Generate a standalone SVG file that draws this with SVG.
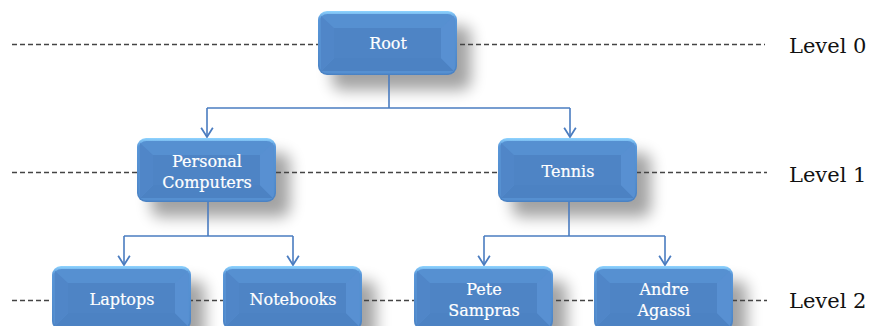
<svg xmlns="http://www.w3.org/2000/svg" xmlns:xlink="http://www.w3.org/1999/xlink" width="874" height="326" viewBox="0 0 874 326">
  <style>
    .level-line { stroke: #444; stroke-width: 1.3; stroke-dasharray: 5 3; fill: none; }
    .level-label { font-family: "DejaVu Serif", "Liberation Serif", serif; font-size: 21px; fill: #111; }
    .node-text { font-family: "DejaVu Serif", "Liberation Serif", serif; font-size: 16px; fill: #fff; stroke: #fff; stroke-width: 0.2; text-anchor: middle; }
    .edge { stroke: #4a7cc0; stroke-width: 1.6; fill: none; }
    .shadow { fill: #000; opacity: 0.36; filter: url(#blur); }
  </style>
  <defs>
    <filter id="blur" x="-30%" y="-40%" width="160%" height="180%">
      <feGaussianBlur stdDeviation="7.5"/>
    </filter>
    <linearGradient id="rim" x1="0" y1="0" x2="0" y2="1">
      <stop offset="0" stop-color="#8fd4ff"/>
      <stop offset="0.12" stop-color="#5a98da"/>
      <stop offset="1" stop-color="#4a82c4"/>
    </linearGradient>
    <marker id="arrow" markerUnits="userSpaceOnUse" markerWidth="14" markerHeight="14" refX="11" refY="6" orient="auto" viewBox="0 0 12 12">
      <path d="M3,1 L11,6 L3,11" fill="none" stroke="#4a7cc0" stroke-width="1.5"/>
    </marker>
    <!-- bevelled button, 139 x 64 -->
    <g id="box">
      <rect width="139" height="64" rx="9" fill="url(#rim)"/>
      <rect x="1.5" y="3" width="136" height="59.5" rx="8" fill="#5690d1"/>
      <polygon points="3,60 16,47 123,47 136,60" fill="#4c82c3"/>
      <polygon points="3,5 16,17 16,47 3,60" fill="#5086c8"/>
      <polygon points="136,5 123,17 123,47 136,60" fill="#5890d2"/>
      <rect x="16" y="17" width="107" height="30" fill="#4e84c5"/>
    </g>
  </defs>

  <rect width="874" height="326" fill="#fff"/>

  <!-- shadows under the buttons -->
  <g id="shadows">
    <rect class="shadow" x="332" y="26" width="139" height="64" rx="9"/>
    <rect class="shadow" x="151" y="153" width="139" height="64" rx="9"/>
    <rect class="shadow" x="512" y="153" width="139" height="64" rx="9"/>
    <rect class="shadow" x="66" y="281" width="139" height="64" rx="9"/>
    <rect class="shadow" x="237" y="281" width="139" height="64" rx="9"/>
    <rect class="shadow" x="428" y="281" width="139" height="64" rx="9"/>
    <rect class="shadow" x="608" y="281" width="139" height="64" rx="9"/>
  </g>

  <!-- level guide lines -->
  <g id="levels">
    <line class="level-line" x1="12" y1="44.5" x2="765" y2="44.5"/>
    <line class="level-line" x1="12" y1="172.5" x2="767" y2="172.5"/>
    <line class="level-line" x1="12" y1="300.5" x2="767" y2="300.5"/>
    <text class="level-label" x="789" y="53">Level 0</text>
    <text class="level-label" x="789" y="182">Level 1</text>
    <text class="level-label" x="789" y="308">Level 2</text>
  </g>

  <g id="node-root">
    <use xlink:href="#box" x="318" y="11"/>
    <text class="node-text" x="388" y="49">Root</text>
  </g>
  <g id="node-personal-computers">
    <use xlink:href="#box" x="137" y="138"/>
    <text class="node-text" x="207" y="167">Personal</text>
    <text class="node-text" x="207" y="188">Computers</text>
  </g>
  <g id="node-tennis">
    <use xlink:href="#box" x="498" y="138"/>
    <text class="node-text" x="568" y="177">Tennis</text>
  </g>
  <g id="node-laptops">
    <use xlink:href="#box" x="52" y="266"/>
    <text class="node-text" x="122" y="305">Laptops</text>
  </g>
  <g id="node-notebooks">
    <use xlink:href="#box" x="223" y="266"/>
    <text class="node-text" x="293" y="305">Notebooks</text>
  </g>
  <g id="node-pete-sampras">
    <use xlink:href="#box" x="414" y="266"/>
    <text class="node-text" x="484" y="295">Pete</text>
    <text class="node-text" x="484" y="316">Sampras</text>
  </g>
  <g id="node-andre-agassi">
    <use xlink:href="#box" x="594" y="266"/>
    <text class="node-text" x="664" y="295">Andre</text>
    <text class="node-text" x="664" y="316">Agassi</text>
  </g>

  <g id="connectors">
    <line class="edge" x1="389" y1="75" x2="389" y2="108"/>
    <line class="edge" x1="207" y1="108" x2="570" y2="108"/>
    <line class="edge" x1="207" y1="108" x2="207" y2="137" marker-end="url(#arrow)"/>
    <line class="edge" x1="570" y1="108" x2="570" y2="137" marker-end="url(#arrow)"/>

    <line class="edge" x1="208" y1="202" x2="208" y2="236"/>
    <line class="edge" x1="124" y1="236" x2="293" y2="236"/>
    <line class="edge" x1="124" y1="236" x2="124" y2="265" marker-end="url(#arrow)"/>
    <line class="edge" x1="293" y1="236" x2="293" y2="265" marker-end="url(#arrow)"/>

    <line class="edge" x1="569" y1="202" x2="569" y2="236"/>
    <line class="edge" x1="484" y1="236" x2="665" y2="236"/>
    <line class="edge" x1="484" y1="236" x2="484" y2="265" marker-end="url(#arrow)"/>
    <line class="edge" x1="665" y1="236" x2="665" y2="265" marker-end="url(#arrow)"/>
  </g>
</svg>
